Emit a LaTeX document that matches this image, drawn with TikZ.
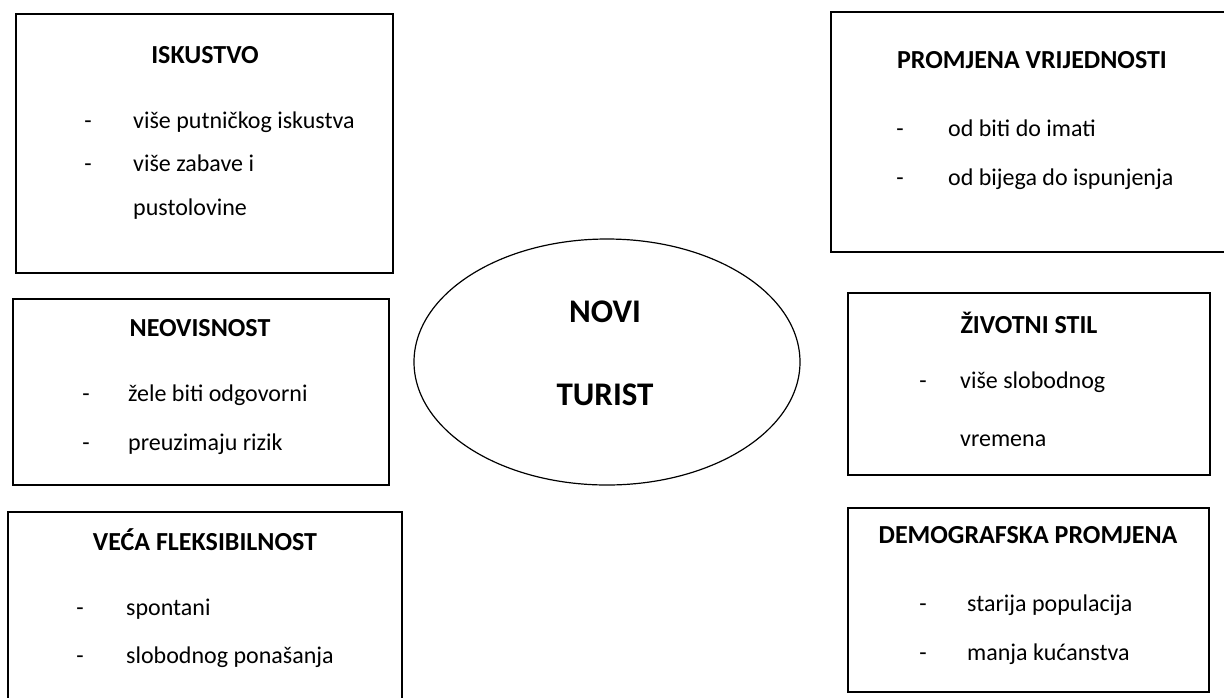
\documentclass[tikz,border=0pt]{standalone}
\usepackage{fontspec}
\setmainfont{Carlito}

\tikzset{
	okvir/.style={line width=1.6pt},
	naslov/.style={inner sep=0pt, anchor=base, font=\bfseries\fontsize{26}{30}\selectfont},
	glavni/.style={inner sep=0pt, anchor=base, font=\bfseries\fontsize{33}{38}\selectfont},
	crtica/.style={inner sep=0pt, anchor=base, font=\fontsize{24}{28}\selectfont},
	stavka/.style={inner sep=0pt, anchor=base west, font=\fontsize{24}{28}\selectfont}
}

\begin{document}
\begin{tikzpicture}[x=1pt,y=-1pt]
	\useasboundingbox (0,0) rectangle (1224,697);
	\clip (0,0) rectangle (1224,697);
	
	% okviri lijevo
	\draw[okvir] (16,14) rectangle (393,273);
	\draw[okvir] (13,299) rectangle (389,485);
	\draw[okvir] (8,512) rectangle (402,710);
	% okviri desno
	\draw[okvir] (831,12) rectangle (1240,252);
	\draw[okvir] (848,293) rectangle (1210,475);
	\draw[okvir] (848,508) rectangle (1209,692);
	% elipsa
	\draw[line width=1.2pt] (607,362) ellipse [x radius=193pt, y radius=123pt];
	
	\node[glavni] (novi) at (605,322) {NOVI};
	\node[glavni] (turist) at (605,405) {TURIST};
	
	\node[naslov] (iskustvo) at (205,63) {ISKUSTVO};
	\node[crtica] (iskA) at (88,128) {-};
	\node[stavka] (iskAt) at (133,128) {više putničkog iskustva};
	\node[crtica] (iskB) at (88,171) {-};
	\node[stavka] (iskBt) at (133,171) {više zabave i};
	\node[stavka] (iskBu) at (133,215) {pustolovine};
	
	\node[naslov] (neovisnost) at (200,336) {NEOVISNOST};
	\node[crtica] (neoA) at (86,401) {-};
	\node[stavka] (neoAt) at (128,401) {žele biti odgovorni};
	\node[crtica] (neoB) at (86,450) {-};
	\node[stavka] (neoBt) at (128,450) {preuzimaju rizik};
	
	\node[naslov] (fleks) at (205,550) {VEĆA FLEKSIBILNOST};
	\node[crtica] (flkA) at (80,615) {-};
	\node[stavka] (flkAt) at (126,615) {spontani};
	\node[crtica] (flkB) at (80,663) {-};
	\node[stavka] (flkBt) at (126,663) {slobodnog ponašanja};
	
	\node[naslov] (vrijed) at (1032,68) {PROMJENA VRIJEDNOSTI};
	\node[crtica] (vrjA) at (900,136) {-};
	\node[stavka] (vrjAt) at (948,136) {od biti do imati};
	\node[crtica] (vrjB) at (900,185) {-};
	\node[stavka] (vrjBt) at (948,185) {od bijega do ispunjenja};
	
	\node[naslov] (stil) at (1029,333) {ŽIVOTNI STIL};
	\node[crtica] (stlA) at (923,388) {-};
	\node[stavka] (stlAt) at (960,388) {više slobodnog};
	\node[stavka] (stlAu) at (960,446) {vremena};
	
	\node[naslov] (demo) at (1028,543) {DEMOGRAFSKA PROMJENA};
	\node[crtica] (dmgA) at (923,611) {-};
	\node[stavka] (dmgAt) at (967,611) {starija populacija};
	\node[crtica] (dmgB) at (923,660) {-};
	\node[stavka] (dmgBt) at (967,660) {manja kućanstva};
\end{tikzpicture}
\end{document}
